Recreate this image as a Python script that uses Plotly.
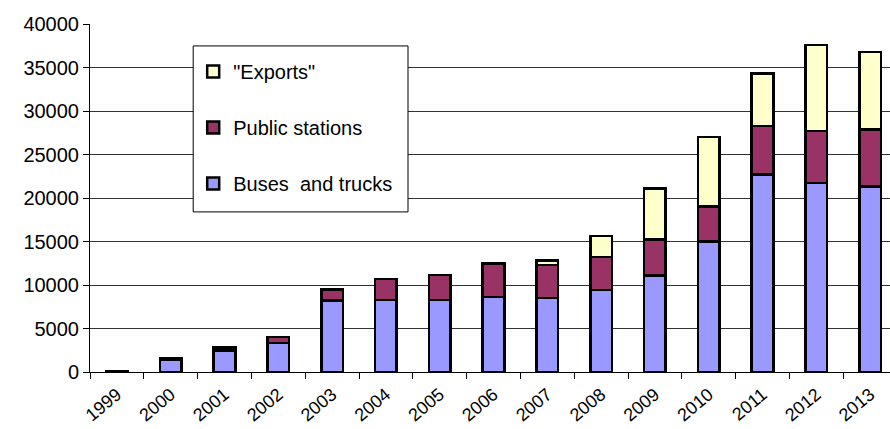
import plotly.graph_objects as go

years = ["1999", "2000", "2001", "2002", "2003", "2004", "2005", "2006",
         "2007", "2008", "2009", "2010", "2011", "2012", "2013"]
buses = [80, 1380, 2450, 3350, 8200, 8300, 8300, 8600, 8500, 9400, 11100, 15000, 22700, 21700, 21300]
public = [20, 220, 350, 650, 1300, 2400, 2850, 3900, 3800, 3800, 4150, 4000, 5600, 6000, 6600]
exports = [0, 0, 0, 0, 0, 0, 0, 0, 500, 2430, 5850, 8000, 6000, 9900, 8900]

FONT = "Liberation Sans, Arial, sans-serif"
line = dict(color="black", width=2.5)

fig = go.Figure()
fig.add_trace(go.Bar(x=years, y=buses, name="Buses  and trucks", legendgroup="a",
                     legendrank=3,
                     marker=dict(color="#9999FF", line=line), width=0.4))
fig.add_trace(go.Bar(x=years, y=public, name="Public stations", legendgroup="b",
                     legendrank=2,
                     marker=dict(color="#993366", line=line), width=0.4))
fig.add_trace(go.Bar(x=years, y=exports, name="\"Exports\"", legendgroup="c",
                     legendrank=1,
                     marker=dict(color="#FFFFCC", line=line), width=0.4))

# legend frame
fig.add_shape(type="rect", xref="paper", yref="paper",
              x0=0.129, x1=0.3975, y0=0.46, y1=0.937,
              line=dict(color="black", width=1), fillcolor="white", layer="above")

fig.update_layout(
    width=890, height=429,
    margin=dict(l=90, r=0, t=24, b=57),
    barmode="stack",
    plot_bgcolor="white", paper_bgcolor="white",
    font=dict(family=FONT, size=20, color="black"),
    showlegend=True,
    legend=dict(x=0.129, y=0.9195, xanchor="left", yanchor="top",
                bgcolor="rgba(0,0,0,0)", borderwidth=0,
                traceorder="grouped", tracegroupgap=27,
                font=dict(family=FONT, size=20, color="black"),
                itemwidth=30),
    xaxis=dict(type="category", range=[-0.5, 14.37], tickangle=-40,
               ticks="outside", ticklen=6, tickcolor="black", tickson="boundaries",
               ticklabelstandoff=4, automargin=False,
               showline=True, linecolor="black", linewidth=1, showgrid=False,
               tickfont=dict(family=FONT, size=18)),
    yaxis=dict(range=[0, 40000], dtick=5000, ticks="outside", ticklen=6,
               tickformat="d", automargin=False,
               tickcolor="black", showline=True, linecolor="black", linewidth=1,
               showgrid=True, gridcolor="#333333", gridwidth=1, zeroline=False,
               tickfont=dict(family=FONT, size=20)),
)

fig.write_html("out.html")
